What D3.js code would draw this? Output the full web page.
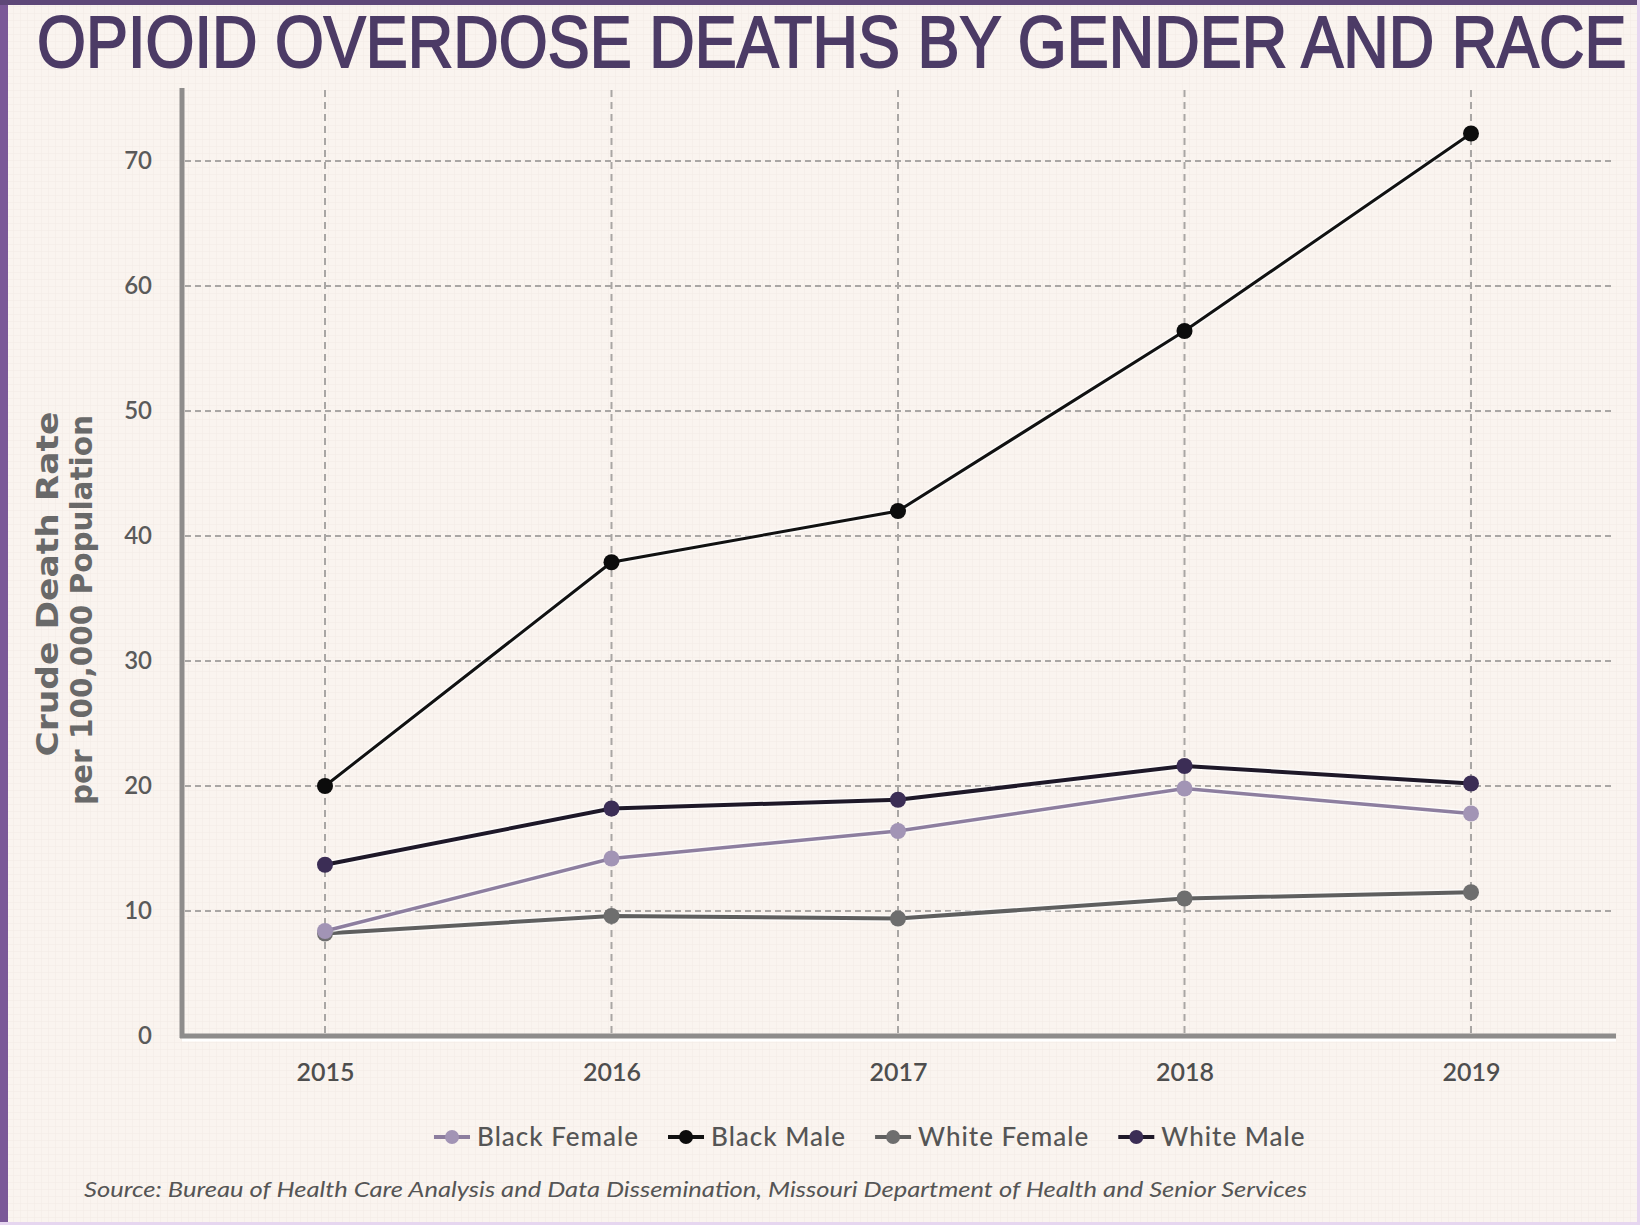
<!DOCTYPE html>
<html><head><meta charset="utf-8">
<script src="https://cdn.jsdelivr.net/npm/d3@7"></script>
<style>html,body{margin:0;padding:0;background:#faf4ef;}svg{display:block;}</style>
</head><body>
<script>
const years = [2015, 2016, 2017, 2018, 2019];
const blackFemale = [8.4, 14.2, 16.4, 19.8, 17.8];
const blackMale = [20.0, 37.9, 42.0, 56.4, 72.2];
const whiteFemale = [8.2, 9.6, 9.4, 11.0, 11.5];
const whiteMale = [13.7, 18.2, 18.9, 21.6, 20.2];
const seriesNames = ["Black Female", "Black Male", "White Female", "White Male"];
const yTicks = [0, 10, 20, 30, 40, 50, 60, 70];
const titleText = "OPIOID OVERDOSE DEATHS BY GENDER AND RACE";
const yTitle = ["Crude Death Rate", "per 100,000 Population"];
const sourceText = "Source: Bureau of Health Care Analysis and Data Dissemination, Missouri Department of Health and Senior Services";

const W = 1640, H = 1225;
const svg = d3.select("body").append("svg").attr("width", W).attr("height", H);

// background with faint texture
const defs = svg.append("defs");
const pat = defs.append("pattern").attr("id", "tex").attr("width", 7).attr("height", 7).attr("patternUnits", "userSpaceOnUse");
pat.append("rect").attr("width", 7).attr("height", 7).attr("fill", "#faf4ef");
pat.append("path").attr("d", "M7 0 V7 M0 7 H7").attr("stroke", "#f2ebe5").attr("stroke-width", 1);
svg.append("rect").attr("width", W).attr("height", H).attr("fill", "url(#tex)");

// border
svg.append("rect").attr("x", 0).attr("y", 0).attr("width", 8).attr("height", H).attr("fill", "#7b5998");
svg.append("rect").attr("x", 0).attr("y", 0).attr("width", W).attr("height", 5).attr("fill", "#5e4878");
svg.append("rect").attr("x", W - 3).attr("y", 0).attr("width", 3).attr("height", H).attr("fill", "#e6d6f0");
svg.append("rect").attr("x", 0).attr("y", H - 3).attr("width", W).attr("height", 3).attr("fill", "#e6d6f0");

// title: condensed font sized so its natural width fits, then scaled vertically to the reference cap height
const titleG = svg.append("g");
const title = titleG.append("text").attr("x", 0).attr("y", 0)
  .style("font-family", "'Liberation Sans Narrow', 'Liberation Sans', Arial, sans-serif")
  .style("font-weight", 400).style("font-size", "73px")
  .attr("fill", "#4c3b66").attr("stroke", "#4c3b66").attr("stroke-width", 1.6)
  .text(titleText);
const natW = title.node().getComputedTextLength();
const targetW = 1590;
const fs = 73 * targetW / natW;
title.style("font-size", fs + "px");
const sy = Math.min(1.4, 73 / fs);
titleG.attr("transform", `translate(37,67) scale(1,${sy})`);

// scales
const x = d3.scalePoint().domain(years).range([325, 1471]);
const y = d3.scaleLinear().domain([0, 70]).range([1036, 161]);
const plotLeft = 182, plotRight = 1612, plotTop = 88;

// grid
const grid = svg.append("g");
grid.selectAll(".hg").data(yTicks.filter(d => d > 0)).join("line")
  .attr("x1", plotLeft + 3).attr("x2", plotRight).attr("y1", d => y(d)).attr("y2", d => y(d))
  .attr("stroke", "#a9a6a4").attr("stroke-width", 2).attr("stroke-dasharray", "6,4");
grid.selectAll(".vg").data(years).join("line")
  .attr("x1", d => x(d)).attr("x2", d => x(d)).attr("y1", plotTop + 2).attr("y2", y(0))
  .attr("stroke", "#a9a6a4").attr("stroke-width", 2).attr("stroke-dasharray", "7,5");

// axes lines
svg.append("line").attr("x1", plotLeft).attr("x2", plotLeft).attr("y1", plotTop).attr("y2", y(0) + 2)
  .attr("stroke", "#8e8c8b").attr("stroke-width", 5);
svg.append("line").attr("x1", plotLeft).attr("x2", 1616).attr("y1", y(0) + 4).attr("y2", y(0) + 4)
  .attr("stroke", "#ffffff").attr("stroke-width", 3);
svg.append("line").attr("x1", plotLeft - 2).attr("x2", 1616).attr("y1", y(0)).attr("y2", y(0))
  .attr("stroke", "#8e8c8b").attr("stroke-width", 5);

// axis tick labels
const yAxis = svg.append("g").attr("transform", `translate(${plotLeft},0)`)
  .call(d3.axisLeft(y).tickValues(yTicks).tickSize(0).tickPadding(30).tickFormat(d3.format("d")));
yAxis.select(".domain").remove();
yAxis.selectAll("text").style("font-family", "Lato, sans-serif").style("font-size", "24px")
  .attr("fill", "#5a5a5a").style("font-weight", 600);

const xAxis = svg.append("g").attr("transform", `translate(0,${y(0)})`)
  .call(d3.axisBottom(x).tickSize(0).tickPadding(27).tickFormat(d3.format("d")));
xAxis.select(".domain").remove();
xAxis.selectAll("text").style("font-family", "Lato, sans-serif").style("font-size", "25px")
  .attr("fill", "#4e4e4e").style("font-weight", 600);

// y axis title
const yt = svg.append("g").style("font-family", "'DejaVu Sans', sans-serif").style("font-weight", "bold")
  .style("font-size", "30px").attr("fill", "#696969");
yt.append("text").attr("transform", "translate(58,584) rotate(-90)").attr("text-anchor", "middle")
  .attr("textLength", 345).attr("lengthAdjust", "spacingAndGlyphs").text(yTitle[0]);
yt.append("text").attr("transform", "translate(92,610) rotate(-90)").attr("text-anchor", "middle")
  .attr("textLength", 390).attr("lengthAdjust", "spacingAndGlyphs").text(yTitle[1]);

// series
const series = [
  {name: seriesNames[0], values: blackFemale, line: "#8d7e9f", dot: "#a294b5", w: 3.5},
  {name: seriesNames[1], values: blackMale, line: "#111111", dot: "#0c0c0c", w: 3},
  {name: seriesNames[2], values: whiteFemale, line: "#5f5f5f", dot: "#6e6e6e", w: 4},
  {name: seriesNames[3], values: whiteMale, line: "#1e1828", dot: "#3b2d55", w: 4}
];
const drawOrder = [2, 0, 3, 1];
const lineGen = d3.line().x((d, i) => x(years[i])).y(d => y(d));
drawOrder.forEach(k => {
  const s = series[k];
  const g = svg.append("g");
  g.append("path").datum(s.values).attr("d", lineGen).attr("fill", "none")
    .attr("stroke", "#ffffff").attr("stroke-opacity", 0.6).attr("stroke-width", s.w + 3);
  g.append("path").datum(s.values).attr("d", lineGen).attr("fill", "none")
    .attr("stroke", s.line).attr("stroke-width", s.w);
  g.selectAll("circle").data(s.values).join("circle")
    .attr("cx", (d, i) => x(years[i])).attr("cy", d => y(d)).attr("r", 8).attr("fill", s.dot);
});

// legend
const leg = svg.append("g").attr("transform", "translate(0,1137)");
let lx = 434;
series.forEach(s => {
  const it = leg.append("g").attr("transform", `translate(${lx},0)`);
  it.append("line").attr("x1", 0).attr("x2", 36).attr("y1", 0).attr("y2", 0).attr("stroke", s.line).attr("stroke-width", 4);
  it.append("circle").attr("cx", 18).attr("cy", 0).attr("r", 7).attr("fill", s.dot);
  const t = it.append("text").attr("x", 43).attr("y", 9).text(s.name)
    .style("font-family", "Lato, sans-serif").style("font-size", "26px").style("letter-spacing", "1px")
    .style("font-weight", 500).attr("fill", "#555");
  lx += 43 + t.node().getComputedTextLength() + 29;
});

// source
svg.append("text").attr("x", 84).attr("y", 1197).attr("textLength", 1223).attr("lengthAdjust", "spacingAndGlyphs")
  .style("font-family", "Lato, sans-serif").style("font-style", "italic").style("font-size", "21px")
  .attr("fill", "#555").text(sourceText);
</script>
</body></html>
